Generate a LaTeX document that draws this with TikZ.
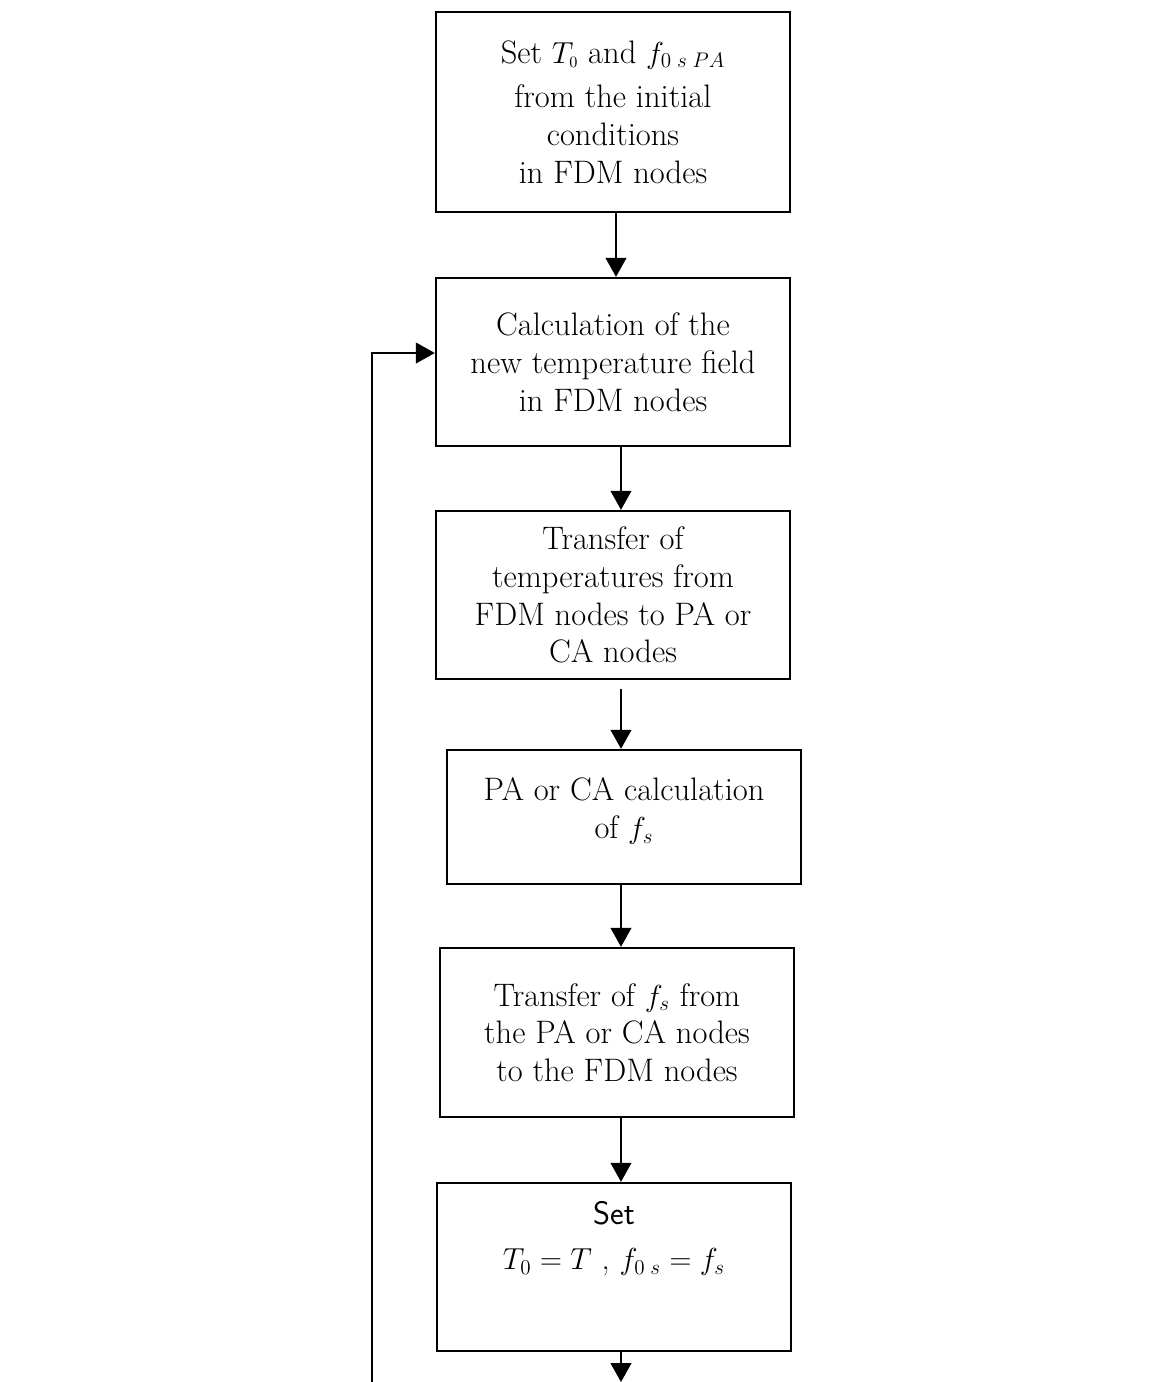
\documentclass[tikz,border=0pt]{standalone}
\usepackage{tikz}
\usetikzlibrary{arrows.meta}

\begin{document}
\begin{tikzpicture}
    \tikzset{
      stepbox/.style={draw=black, line width=1.4pt, minimum width=7.08cm, inner sep=0pt,
        align=center, font=\fontsize{18.5}{21.5}\selectfont},
      flow/.style={line width=0.6pt, -{Triangle[length=0.38cm, width=0.42cm]}}
    }
    \useasboundingbox (0,0) rectangle (23.02,-27.64);

    % Steps of the FDM - PA/CA coupling
    \node[stepbox, minimum height=4cm] (init) at (12.26,-2.24)
      {Set $T_{\scriptscriptstyle 0}$ and $f_{0\;s\;PA}$\\[4pt]from the initial\\conditions\\in FDM nodes};
    \node[stepbox, minimum height=3.36cm] (temp) at (12.26,-7.24)
      {Calculation of the\\new temperature field\\in FDM nodes};
    \node[stepbox, minimum height=3.36cm] (tofa) at (12.26,-11.9)
      {Transfer of\\temperatures from\\FDM nodes to PA or\\CA nodes};
    \node[stepbox, minimum height=2.68cm] (calc) at (12.48,-16.34)
      {PA or CA calculation\\of $f_{s}$\\[-11.5pt]};
    \node[stepbox, minimum height=3.38cm] (back) at (12.34,-20.65)
      {Transfer of $f_{s}$ from\\the PA or CA nodes\\to the FDM nodes};
    \node[stepbox, minimum height=3.36cm] (upd) at (12.28,-25.34)
      {\textsf{Set}\\[4pt]$T_{0}=T$ , $f_{0\;s}=f_{s}$\\[14pt]};

    % Arrow column and free ends at the bottom edge
    \coordinate (col) at (12.42,0);
    \coordinate (down) at (12.42,-27.64);
    \coordinate (loop) at (7.44,-27.64);

    \draw[flow] (init.south -| 12.32,0) -- (temp.north -| 12.32,0);
    \draw[flow] (temp.south -| col) -- (tofa.north -| col);
    \draw[flow] ([yshift=-0.18cm]tofa.south -| col) -- (calc.north -| col);
    \draw[flow] (calc.south -| col) -- (back.north -| col);
    \draw[flow] (back.south -| col) -- (upd.north -| col);
    \draw[flow] (upd.south -| col) -- (down);

    % Return to the next time step
    \draw[flow] (loop) |- ([yshift=0.18cm]temp.west);
\end{tikzpicture}
\end{document}
